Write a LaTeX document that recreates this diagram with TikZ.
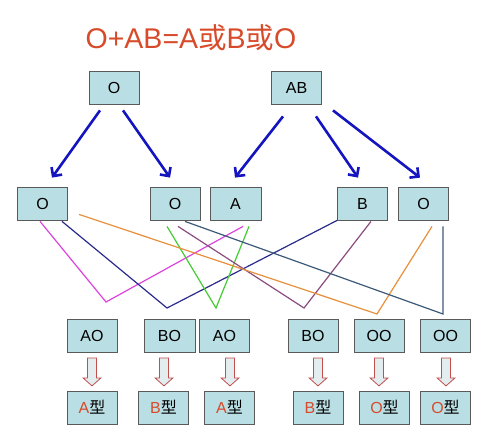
\documentclass[tikz,border=0pt]{standalone}
\usepackage{fontspec}
\setmainfont{Liberation Sans}
\newfontfamily\cjk{Noto Sans CJK SC}
\usetikzlibrary{arrows.meta,calc}
\definecolor{boxfill}{HTML}{B9DEE3}
\definecolor{boxline}{HTML}{5A5A5A}
\definecolor{titlered}{HTML}{D84B2A}
\definecolor{arrblue}{HTML}{1414C0}
\definecolor{cmag}{HTML}{DD44DD}
\definecolor{cnavy}{HTML}{2B2B8C}
\definecolor{cgreen}{HTML}{44CC33}
\definecolor{cpurple}{HTML}{8B4C7F}
\definecolor{corange}{HTML}{E8903A}
\definecolor{cslate}{HTML}{3C5A78}
\definecolor{harline}{HTML}{C0504D}
\definecolor{harfill}{HTML}{E3ECEE}
\tikzset{
  gbox/.style={draw=boxline, fill=boxfill, line width=0.8pt, minimum width=50pt,
    minimum height=33pt, inner sep=0pt, font=\fontsize{16}{16}\selectfont},
  barrow/.style={draw=arrblue, line width=2.6pt, -{Straight Barb[length=6.5pt,width=13pt]}},
  cline/.style={line width=1.2pt},
  pics/hollow/.style={code={
    \draw[draw=harline, fill=harfill, line width=0.8pt, line join=miter]
      (-4.5,0) -- (4.5,0) -- (4.5,20) -- (9,20) -- (0,28) -- (-9,20) -- (-4.5,20) -- cycle;}}
}
\newcommand{\xing}{{\cjk 型}}
\newcommand{\huo}{{\cjk 或}}
\begin{document}
\begin{tikzpicture}[x=1pt,y=-1pt]
\useasboundingbox[fill=white] (0,0) rectangle (500,444);

% title
\node[text=titlered, font=\fontsize{28.5}{28.5}\selectfont, inner sep=0pt] (title) at (191,38) {O+AB=A\huo B\huo O};

% top row
\node[gbox] (po) at (114,87.5) {O};
\node[gbox] (pab) at (296.5,87.5) {AB};

% second row
\node[gbox] (g1) at (42.5,203.5) {O};
\node[gbox] (g2) at (175,203.5) {O};
\node[gbox, minimum width=51pt] (g3) at (235.5,203.5) {A};
\node[gbox] (g4) at (362.5,203.5) {B};
\node[gbox] (g5) at (423.5,203.5) {O};

% third row
\node[gbox] (c1) at (92,336) {AO};
\node[gbox, minimum width=51pt] (c2) at (169.5,336) {BO};
\node[gbox] (c3) at (224.5,336) {AO};
\node[gbox] (c4) at (313,336) {BO};
\node[gbox] (c5) at (379,336) {OO};
\node[gbox] (c6) at (445.5,336) {OO};

% fourth row
\node[gbox] (t1) at (92,407.5) {\textcolor{titlered}{A}\xing};
\node[gbox] (t2) at (163.5,407.5) {\textcolor{titlered}{B}\xing};
\node[gbox] (t3) at (229.5,407.5) {\textcolor{titlered}{A}\xing};
\node[gbox] (t4) at (318,407.5) {\textcolor{titlered}{B}\xing};
\node[gbox] (t5) at (384.5,407.5) {\textcolor{titlered}{O}\xing};
\node[gbox] (t6) at (445.5,407.5) {\textcolor{titlered}{O}\xing};

% blue arrows
\draw[barrow] ($(po.south)+(-14,6)$) -- ($(g1.north)+(9.5,-9)$);
\draw[barrow] ($(po.south)+(9,6)$) -- ($(g2.north)+(-5,-9)$);
\draw[barrow] ($(pab.south)+(-13.5,12)$) -- ($(g3.north)+(-0.5,-9)$);
\draw[barrow] ($(pab.south)+(19.5,12)$) -- ($(g4.north)+(-4.5,-9)$);
\draw[barrow] ($(pab.south)+(36.5,6)$) -- ($(g5.north)+(-3.5,-9)$);

% crossing lines
\coordinate (vm) at (106,302);
\coordinate (vn) at (167,308);
\coordinate (vg) at (216,308);
\coordinate (vp) at (304,308);
\coordinate (vo) at (377,314);
\coordinate (vs) at (443,314);
\draw[cline, cmag] ($(g1.south)+(-2.5,1)$) -- (vm) -- ($(g3.south)+(7.5,6)$);
\draw[cline, cnavy] ($(g1.south)+(19.5,1)$) -- (vn) -- (g4.south west);
\draw[cline, cgreen] ($(g2.south)+(-8,6)$) -- (vg) -- ($(g3.south)+(13.5,6)$);
\draw[cline, cpurple] ($(g2.south)+(3,6)$) -- (vp) -- ($(g4.south)+(8.5,1)$);
\draw[cline, corange] ($(g1.south)+(36.5,-6)$) -- (vo) -- ($(g5.south)+(8.5,6)$);
\draw[cline, cslate] ($(g2.south)+(10,1)$) -- (vs) -- ($(g5.south)+(19.5,6)$);

% hollow arrows
\pic at ($(c1.south)+(0,5)$) {hollow};
\pic at ($(c2.south)+(-5.5,5)$) {hollow};
\pic at ($(c3.south)+(5.5,5)$) {hollow};
\pic at ($(c4.south)+(5,5)$) {hollow};
\pic at ($(c5.south)+(0,5)$) {hollow};
\pic at ($(c6.south)+(0.5,5)$) {hollow};
\end{tikzpicture}
\end{document}
